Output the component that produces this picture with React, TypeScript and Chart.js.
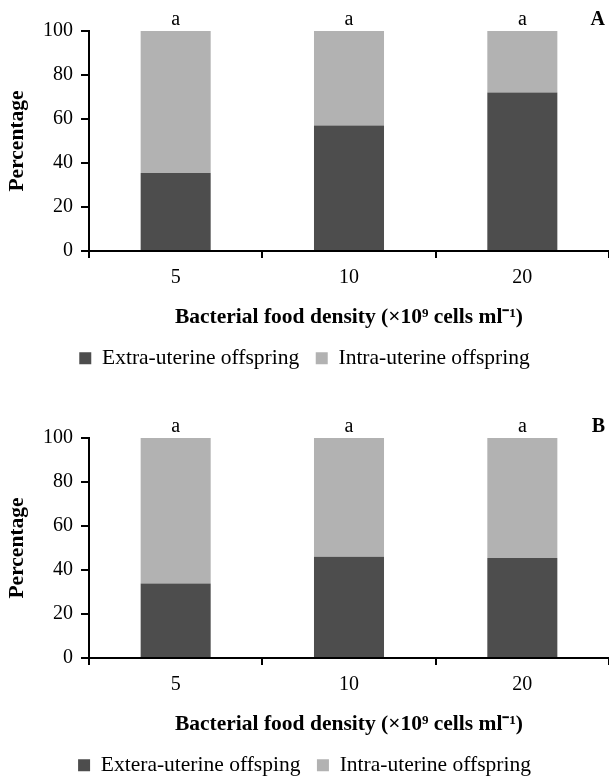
import React, { useEffect, useRef } from "react";
import { Chart, registerables } from "chart.js";

Chart.register(...registerables);

const categories = ["5", "10", "20"];
const extraA = [35.5, 57.1, 72.0];
const intraA = [64.5, 42.9, 28.0];
const extraB = [33.9, 46.0, 45.5];
const intraB = [66.1, 54.0, 54.5];
const lettersA = ["a", "a", "a"];
const lettersB = ["a", "a", "a"];
const yTicks = [0, 20, 40, 60, 80, 100];
const legendA = ["Extra-uterine offspring", "Intra-uterine offspring"];
const legendB = ["Extera-uterine offsping", "Intra-uterine offspring"];
const xTitle = "Bacterial food density (\u00d710\u2079 cells ml\u207b\u00b9)";
const yTitle = "Percentage";

const FONT = "'Liberation Serif', 'Times New Roman', serif";
const DARK = "#4d4d4d";
const LIGHT = "#b2b2b2";

const lettersPlugin = {
  id: "letters",
  afterDraw(chart: any, _args: any, opts: any) {
    const { ctx, chartArea } = chart;
    const xs = chart.scales.x;
    ctx.save();
    ctx.fillStyle = "#000";
    ctx.textBaseline = "alphabetic";
    ctx.textAlign = "center";
    ctx.font = `20px ${FONT}`;
    (opts.letters || []).forEach((l: string, i: number) => {
      ctx.fillText(l, xs.getPixelForValue(i), chartArea.top - 6);
    });
    ctx.font = `bold 20px ${FONT}`;
    ctx.textAlign = "right";
    ctx.fillText(opts.panel, chart.width - 4, chartArea.top - 6);
    ctx.restore();
  },
};

function makeConfig(extra: number[], intra: number[], letters: string[], legend: string[], panel: string): any {
  return {
    type: "bar",
    data: {
      labels: categories,
      datasets: [
        { label: legend[0], data: extra, backgroundColor: DARK, borderWidth: 0, categoryPercentage: 1, barPercentage: 0.404 },
        { label: legend[1], data: intra, backgroundColor: LIGHT, borderWidth: 0, categoryPercentage: 1, barPercentage: 0.404 },
      ],
    },
    options: {
      responsive: false,
      animation: false,
      layout: { padding: { top: 31, right: 0, left: 0, bottom: 0 } },
      font: { family: FONT },
      scales: {
        x: {
          stacked: true,
          grid: { drawOnChartArea: false, drawTicks: true, tickLength: 7, color: "#000", lineWidth: 2, offset: true },
          border: { display: true, color: "#000", width: 2 },
          ticks: { color: "#000", font: { family: FONT, size: 20 }, padding: 8, maxRotation: 0 },
          title: {
            display: true,
            text: xTitle,
            color: "#000",
            font: { family: FONT, size: 21.5, weight: "bold" },
            padding: { top: 0, bottom: 1 },
          },
          afterFit(scale: any) {
            scale.height = 80;
          },
        },
        y: {
          stacked: true,
          min: 0,
          max: 100,
          afterBuildTicks(scale: any) {
            scale.ticks = yTicks.map((v) => ({ value: v }));
          },
          grid: { drawOnChartArea: false, drawTicks: true, tickLength: 8, color: "#000", lineWidth: 2 },
          border: { display: true, color: "#000", width: 2 },
          ticks: { color: "#000", font: { family: FONT, size: 20 }, padding: 8 },
          title: {
            display: true,
            text: yTitle,
            color: "#000",
            font: { family: FONT, size: 21.5, weight: "bold" },
            padding: { top: 5, bottom: 0 },
          },
          afterFit(scale: any) {
            scale.width = 89;
          },
        },
      },
      plugins: {
        legend: {
          display: true,
          position: "bottom",
          labels: {
            color: "#000",
            font: { family: FONT, size: 21.5 },
            boxWidth: 12,
            boxHeight: 12,
            padding: 16.5,
          },
        },
        tooltip: { enabled: false },
        letters: { letters, panel },
      },
    },
    plugins: [lettersPlugin],
  };
}

function Panel(props: { top: number; extra: number[]; intra: number[]; letters: string[]; legend: string[]; panel: string }) {
  const ref = useRef<HTMLCanvasElement>(null);
  useEffect(() => {
    if (!ref.current) return;
    const chart = new Chart(ref.current, makeConfig(props.extra, props.intra, props.letters, props.legend, props.panel));
    return () => chart.destroy();
  }, []);
  return (
    <div style={{ position: "absolute", left: 0, top: props.top, width: 609, height: 379 }}>
      <canvas ref={ref} width={609} height={379} style={{ display: "block" }} />
    </div>
  );
}

export default function App() {
  return (
    <div style={{ position: "absolute", left: 0, top: 0, width: 609, height: 777, overflow: "hidden", background: "#fff" }}>
      <Panel top={0} extra={extraA} intra={intraA} letters={lettersA} legend={legendA} panel="A" />
      <Panel top={407} extra={extraB} intra={intraB} letters={lettersB} legend={legendB} panel="B" />
    </div>
  );
}
